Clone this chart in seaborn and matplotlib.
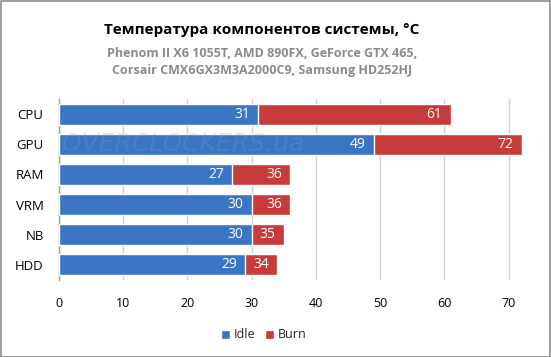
import matplotlib
matplotlib.use("Agg")
import matplotlib.pyplot as plt
import seaborn as sns
import pandas as pd
from matplotlib.patches import Rectangle, Patch

categories = ["CPU", "GPU", "RAM", "VRM", "NB", "HDD"]
idle = [31, 49, 27, 30, 30, 29]
burn = [61, 72, 36, 36, 35, 34]
xticks = [0, 10, 20, 30, 40, 50, 60, 70]

title = "Температура компонентов системы, °С"
subtitle = "Phenom II X6 1055T, AMD 890FX, GeForce GTX 465,\nCorsair CMX6GX3M3A2000C9, Samsung HD252HJ"

BLUE = "#3b76c4"
RED = "#c73b3a"

sns.set_theme(style="white")
plt.rcParams["font.family"] = ["Open Sans", "DejaVu Sans"]

df = pd.DataFrame({"cat": categories, "Idle": idle, "Burn": burn})

fig = plt.figure(figsize=(5.51, 3.57), dpi=100)
ax = fig.add_axes([59 / 551, 1 - 280 / 357, (528 - 59) / 551, (280 - 99) / 357])

sns.barplot(data=df, x="Burn", y="cat", color=RED, width=0.7, ax=ax,
            saturation=1, orient="h", zorder=2)
sns.barplot(data=df, x="Idle", y="cat", color=BLUE, width=0.7, ax=ax,
            saturation=1, orient="h", zorder=3)

ax.set_xlim(0, 73)
ax.set_xticks(xticks)
ax.set_xticklabels([str(t) for t in xticks])
ax.set_xlabel("")
ax.set_ylabel("")
ax.grid(axis="x", color="#d0d0d0", linewidth=1, zorder=0)
ax.set_axisbelow(True)
for s in ["top", "right", "bottom"]:
    ax.spines[s].set_visible(False)
ax.spines["left"].set_color("#a0a0a0")
ax.spines["left"].set_linewidth(1)
ax.tick_params(axis="x", length=0, pad=12, labelsize=9, labelcolor="black")
ax.tick_params(axis="y", length=0, pad=11, labelsize=9.5, labelcolor="black")

# data labels
for i, (a, b) in enumerate(zip(idle, burn)):
    ax.annotate(str(a), xy=(a, i), xytext=(-6, 0), textcoords="offset points",
                ha="right", va="center", color="white", fontsize=10, zorder=5)
    ax.annotate(str(b), xy=(b, i), xytext=(-6, 0), textcoords="offset points",
                ha="right", va="center", color="white", fontsize=10, zorder=5)

# watermark
ax.text(0.5, 1, "OVERCLOCKERS.ua", ha="left", va="center", fontsize=18,
        style="italic", color="#7f9cc4", alpha=0.25, zorder=4,
        fontfamily="DejaVu Sans")

fig.text(0.475, 1 - 30 / 357, title, ha="center", va="center",
         fontsize=11, fontweight="bold", color="black")
fig.text(0.475, 1 - 62 / 357, subtitle, ha="center", va="center",
         fontsize=9, fontweight="bold", color="#8a8a8a", linespacing=1.4)

handles = [Patch(facecolor=BLUE, label="Idle"), Patch(facecolor=RED, label="Burn")]
fig.legend(handles=handles, loc="center", bbox_to_anchor=(264 / 551, 1 - 335 / 357),
           ncol=2, frameon=False, fontsize=9, handlelength=0.7, handleheight=0.7,
           handletextpad=0.3, columnspacing=0.8)

fig.patches.append(Rectangle((0.001, 0.001), 0.997, 0.996, transform=fig.transFigure,
                             fill=False, edgecolor="#8c8c8c", linewidth=1.2))

fig.savefig("out.png", dpi=100)
